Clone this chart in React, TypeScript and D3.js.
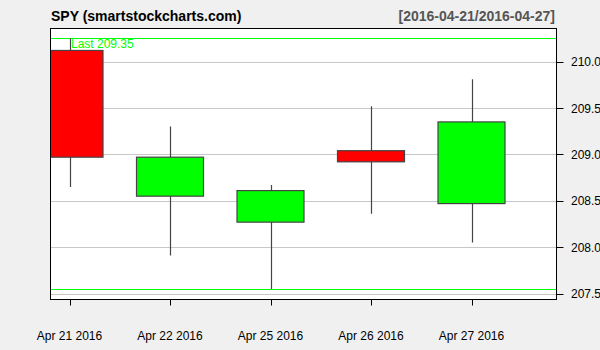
import React from "react";
import * as d3 from "d3";

const dates = ["Apr 21 2016", "Apr 22 2016", "Apr 25 2016", "Apr 26 2016", "Apr 27 2016"];
const opens = [210.12, 208.55, 208.27, 209.04, 208.47];
const highs = [210.25, 209.3, 208.67, 209.52, 209.81];
const lows = [208.65, 207.91, 207.55, 208.36, 208.05];
const closes = [208.97, 208.97, 208.61, 208.92, 209.35];
const yTicks = [207.5, 208.0, 208.5, 209.0, 209.5, 210.0];
const rangeLines = [210.25, 207.55];
const lastValue = 209.35;
const title = "SPY (smartstockcharts.com)";
const period = "[2016-04-21/2016-04-27]";

const W = 600, H = 350;
const L = 50.5, R = 556.5, T = 28.5, B = 299.5;

export default function App() {
  const x = d3.scaleLinear().domain([0, dates.length - 1]).range([69.5, 471.5]);
  const y = d3.scaleLinear().domain([207.5, 210.0]).range([293.6, 61.6]);
  const bw = 67;
  const font = "Liberation Sans, Arial, sans-serif";
  return (
    <svg width={W} height={H} style={{ position: "absolute", left: 0, top: 0, display: "block" }}>
      <defs>
        <clipPath id="plot">
          <rect x={L} y={T} width={R - L} height={B - T} />
        </clipPath>
      </defs>
      <rect x={0} y={0} width={W} height={H} fill="#f0f0f0" />
      <rect x={L} y={T} width={R - L} height={B - T} fill="#fff" />
      <text x={51} y={21} fontFamily={font} fontWeight="bold" fontSize={14} fill="#000">{title}</text>
      <text x={555} y={21} fontFamily={font} fontWeight="bold" fontSize={14} fill="#555" textAnchor="end">{period}</text>
      <g clipPath="url(#plot)">
        {yTicks.map((t) => (
          <line key={t} x1={L} x2={R} y1={Math.round(y(t)) + 0.5} y2={Math.round(y(t)) + 0.5} stroke="#c8c8c8" strokeWidth={1} />
        ))}
        {rangeLines.map((v, i) => (
          <line key={i} x1={L} x2={R} y1={Math.round(y(v)) + 0.5} y2={Math.round(y(v)) + 0.5} stroke="#00ff00" strokeWidth={1} />
        ))}
        {dates.map((d, i) => {
          const cx = Math.round(x(i)) + 0.5;
          const up = closes[i] >= opens[i];
          const top = y(Math.max(opens[i], closes[i]));
          const bot = y(Math.min(opens[i], closes[i]));
          return (
            <g key={d}>
              <line x1={cx} x2={cx} y1={y(highs[i])} y2={y(lows[i])} stroke="#444" strokeWidth={1.2} />
              <rect x={x(i) - bw / 2} y={top} width={bw} height={Math.max(1, bot - top)}
                fill={up ? "#00ff00" : "#ff0000"} stroke="#444" strokeWidth={1.2} />
            </g>
          );
        })}
        <text x={71} y={48} fontFamily={font} fontSize={12} fill="#00ff00">{`Last ${lastValue.toFixed(2)}`}</text>
      </g>
      <rect x={L} y={T} width={R - L} height={B - T} fill="none" stroke="#000" strokeWidth={1} />
      {yTicks.map((t) => (
        <g key={t}>
          <line x1={R} x2={R + 7} y1={Math.round(y(t)) + 0.5} y2={Math.round(y(t)) + 0.5} stroke="#000" />
          <text x={571} y={y(t) + 4.5} fontFamily={font} fontSize={12} fill="#000">{t.toFixed(1)}</text>
        </g>
      ))}
      {dates.map((d, i) => (
        <g key={d}>
          <line x1={Math.round(x(i)) + 0.5} x2={Math.round(x(i)) + 0.5} y1={B} y2={B + 6} stroke="#000" />
          <text x={x(i)} y={340} fontFamily={font} fontSize={12} fill="#000" textAnchor="middle">{d}</text>
        </g>
      ))}
    </svg>
  );
}
